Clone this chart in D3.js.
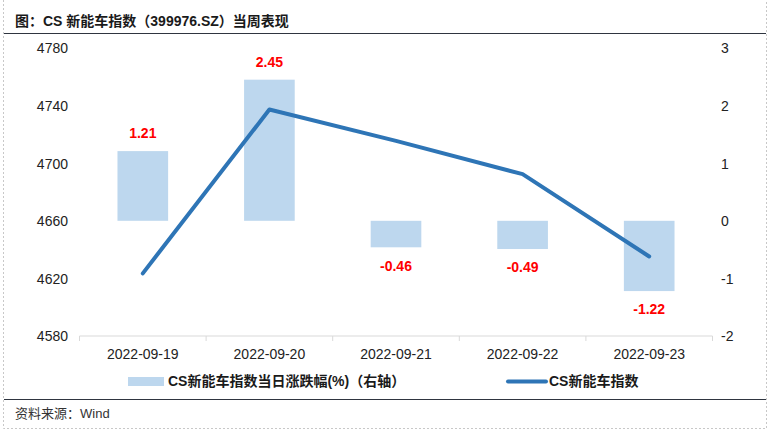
<!DOCTYPE html>
<html><head><meta charset="utf-8">
<script src="https://cdn.jsdelivr.net/npm/d3@7"></script>
<style>
html,body{margin:0;padding:0;background:#fff;}
svg{display:block;font-family:"Liberation Sans",Arial,"Noto Sans CJK SC",sans-serif;}
</style></head>
<body>
<svg id="c" width="771" height="433"></svg>
<script>
const dates = ["2022-09-19","2022-09-20","2022-09-21","2022-09-22","2022-09-23"];
const pctChange = [1.21, 2.45, -0.46, -0.49, -1.22];
const indexValue = [4623.5, 4737.3, 4715.5, 4692.4, 4635.2];
const leftTicks = [4580, 4620, 4660, 4700, 4740, 4780];
const rightTicks = [-2, -1, 0, 1, 2, 3];
const titleText = "图：CS 新能车指数（399976.SZ）当周表现";
const sourceText = "资料来源：Wind";
const legendBar = "CS新能车指数当日涨跌幅(%)（右轴）";
const legendLine = "CS新能车指数";

(function () {
const svg = d3.select("#c");
const pTop = 48, pBottom = 336, pLeft = 79.5, pRight = 712.5;

const x = d3.scaleBand().domain(dates).range([pLeft, pRight]);
const yL = d3.scaleLinear().domain([4580, 4780]).range([pBottom, pTop]);
const yR = d3.scaleLinear().domain([-2, 3]).range([pBottom, pTop]);

// outer dashed frame (left, right, bottom)
svg.append("path").attr("d", "M3.5,0V428.5H766.5V0")
  .attr("fill", "none").attr("stroke", "#c8c8c8").attr("stroke-dasharray", "2,2");
// dark separators
svg.append("line").attr("x1", 4).attr("x2", 766).attr("y1", 33.5).attr("y2", 33.5).attr("stroke", "#2f3540").attr("stroke-width", 1.2);
svg.append("line").attr("x1", 4).attr("x2", 766).attr("y1", 399.5).attr("y2", 399.5).attr("stroke", "#2f3540").attr("stroke-width", 1.2);

// title
svg.append("text").attr("x", 15).attr("y", 26).attr("font-size", 14).attr("font-weight", "bold")
  .attr("fill", "#1a1a1a").text(titleText);
// source
svg.append("text").attr("x", 15).attr("y", 418).attr("font-size", 13).attr("fill", "#333").text(sourceText);

// bars
const bw = x.bandwidth() * 0.4;
svg.append("g").selectAll("rect").data(dates).join("rect")
  .attr("x", d => x(d) + x.bandwidth() / 2 - bw / 2)
  .attr("width", bw)
  .attr("y", (d, i) => Math.min(yR(pctChange[i]), yR(0)))
  .attr("height", (d, i) => Math.abs(yR(pctChange[i]) - yR(0)))
  .attr("fill", "#BDD7EE");

// x axis
const xAxis = d3.axisBottom(x).tickSize(0).tickPadding(0).tickFormat(() => "");
const gx = svg.append("g").attr("transform", `translate(0,${pBottom})`).call(xAxis);
gx.select(".domain").attr("stroke", "#d9d9d9").attr("d", `M${pLeft},0H${pRight}`);
const bounds = dates.map(d => x(d)).concat([pRight]);
gx.selectAll(".bt").data(bounds).join("line").attr("class", "bt")
  .attr("x1", d => d).attr("x2", d => d).attr("y1", 0).attr("y2", 5).attr("stroke", "#d9d9d9");
svg.append("g").selectAll("text").data(dates).join("text")
  .attr("x", d => x(d) + x.bandwidth() / 2).attr("y", 359)
  .attr("text-anchor", "middle").attr("font-size", 14).attr("fill", "#222").text(d => d);

// left axis
const gl = svg.append("g").attr("transform", `translate(68,0)`)
  .call(d3.axisLeft(yL).tickValues(leftTicks).tickSize(0).tickPadding(0).tickFormat(d3.format("d")));
gl.select(".domain").remove();
gl.selectAll("text").attr("font-size", 14).attr("fill", "#222").attr("dy", "0.35em");
gl.attr("font-family", null).attr("font-size", null);

// right axis
const gr = svg.append("g").attr("transform", `translate(721,0)`)
  .call(d3.axisRight(yR).tickValues(rightTicks).tickSize(0).tickPadding(0).tickFormat(d => d < 0 ? "-" + Math.abs(d) : String(d)));
gr.select(".domain").remove();
gr.selectAll("text").attr("font-size", 14).attr("fill", "#222").attr("dy", "0.35em");
gr.attr("font-family", null).attr("font-size", null);

// line
const line = d3.line().x((d, i) => x(dates[i]) + x.bandwidth() / 2).y(d => yL(d));
svg.append("path").datum(indexValue).attr("d", line).attr("fill", "none")
  .attr("stroke", "#2E75B6").attr("stroke-width", 4).attr("stroke-linejoin", "round").attr("stroke-linecap", "round");

// value labels
svg.append("g").selectAll("text").data(dates).join("text")
  .attr("x", d => x(d) + x.bandwidth() / 2)
  .attr("y", (d, i) => pctChange[i] >= 0 ? yR(pctChange[i]) - 18 : yR(pctChange[i]) + 18.5)
  .attr("dy", "0.35em").attr("text-anchor", "middle").attr("font-size", 14).attr("font-weight", "bold")
  .attr("fill", "#FF0000").text((d, i) => pctChange[i].toFixed(2));

// legend
svg.append("rect").attr("x", 128).attr("y", 377).attr("width", 36).attr("height", 9).attr("fill", "#BDD7EE");
svg.append("text").attr("x", 168).attr("y", 381.5).attr("dy", "0.35em").attr("font-size", 14).attr("font-weight", "bold")
  .attr("fill", "#1a1a1a").text(legendBar);
svg.append("line").attr("x1", 508).attr("x2", 546).attr("y1", 381.5).attr("y2", 381.5)
  .attr("stroke", "#2E75B6").attr("stroke-width", 4).attr("stroke-linecap", "round");
svg.append("text").attr("x", 549).attr("y", 381.5).attr("dy", "0.35em").attr("font-size", 14).attr("font-weight", "bold")
  .attr("fill", "#1a1a1a").text(legendLine);
})();
</script>
</body></html>
